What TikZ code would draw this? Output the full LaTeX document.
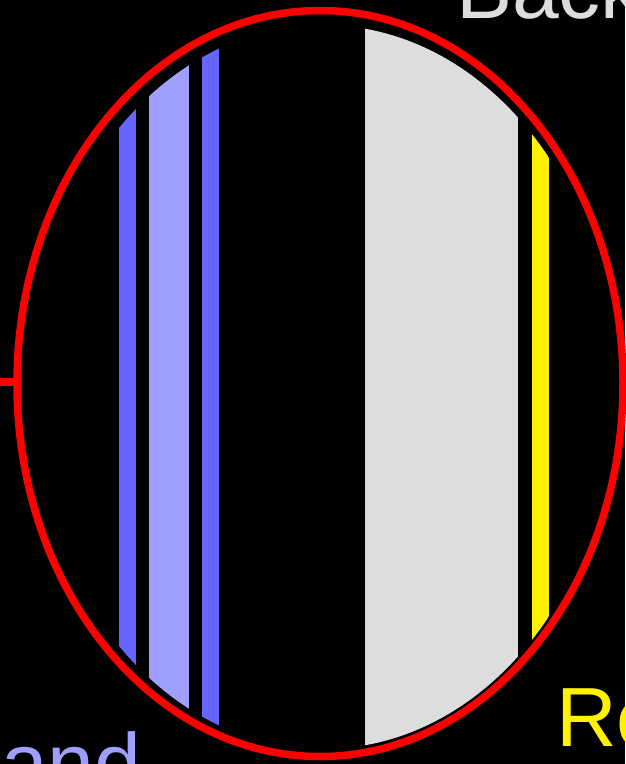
\documentclass[tikz,border=0pt]{standalone}
\usepackage{fontspec}
\setmainfont{Liberation Sans}
\definecolor{bdark}{HTML}{6666FF}
\definecolor{blight}{HTML}{9F9FFF}
\definecolor{lgray}{HTML}{DDDDDD}
\begin{document}
\begin{tikzpicture}[x=1pt,y=-1pt,
  bar/.style={draw=none},
  lbl/.style={anchor=base west,inner sep=0pt,font=\fontsize{84}{90}\selectfont}]
\useasboundingbox (0,0) rectangle (625,764);
\fill[black] (0,0) rectangle (625,764);
\begin{scope}
  \clip (323,387) ellipse [x radius=292, y radius=362];
  \fill[bar,bdark] (119,0) rectangle (136,764);
  \fill[bar,blight] (149,0) rectangle (189,764);
  \fill[bar,bdark] (202,0) rectangle (219,764);
  \fill[bar,lgray] (365,0) rectangle (518,764);
  \fill[bar,yellow] (532,0) rectangle (549,764);
\end{scope}
\draw[red,line width=7.5pt] (320,383.5) ellipse [x radius=303, y radius=373];
\coordinate (lin) at (0,382);
\coordinate (lout) at (17,382);
\draw[red,line width=7.5pt] (lin) -- (lout);
\node[lbl,text=lgray] (back) at (456,18) {Back};
\node[lbl,text=yellow] (re) at (556,746) {Re};
\node[lbl,text=blight] (and) at (1,792) {and};
\end{tikzpicture}
\end{document}
